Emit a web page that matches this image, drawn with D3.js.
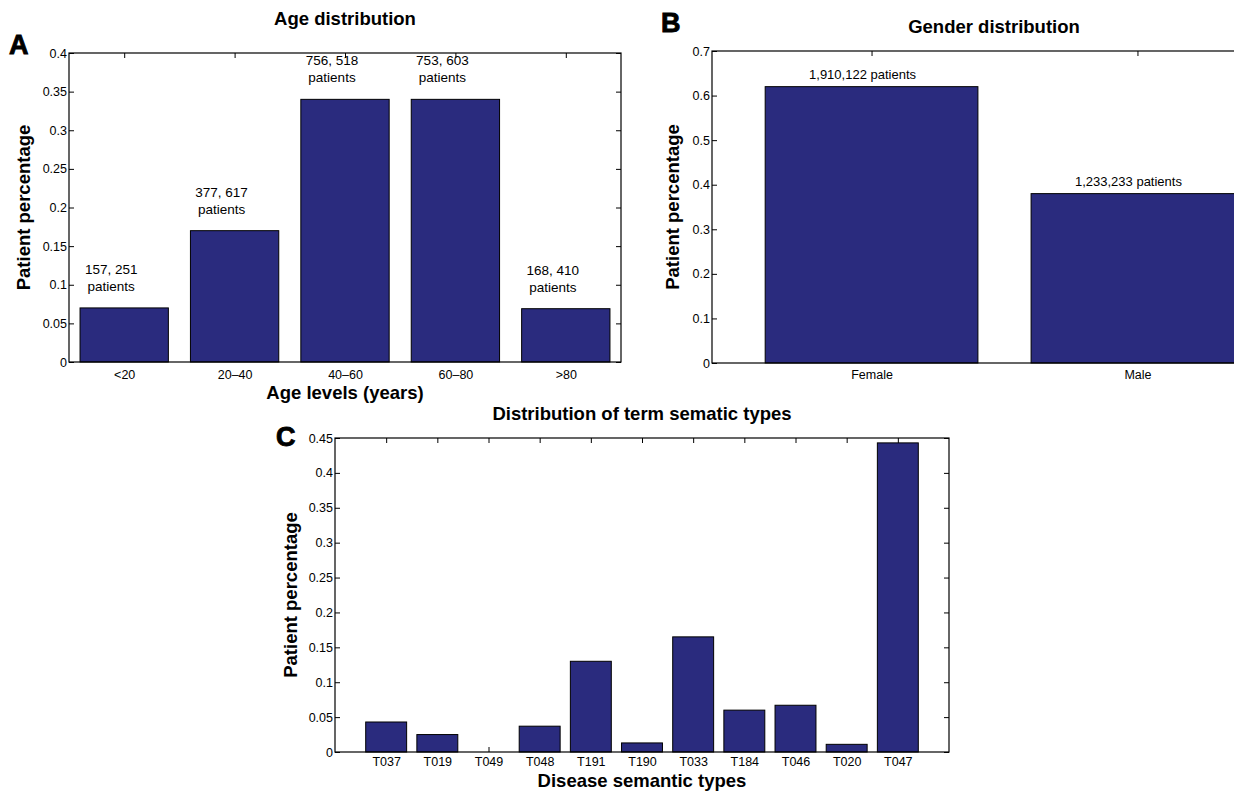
<!DOCTYPE html>
<meta charset="utf-8">
<script src="https://d3js.org/d3.v7.min.js"></script>
<style>
  body { margin: 0; background: #fff; }
  svg text { font-family: "Liberation Sans", Arial, sans-serif; fill: #000; }
</style>
<body>
<div id="chart"></div>
<script>

// A: age distribution
var ageLevels = ["<20", "20\u201340", "40\u201360", "60\u201380", ">80"];
var agePct = [0.07, 0.17, 0.34, 0.34, 0.069];
var ageNotes = [["157, 251", "patients"], ["377, 617", "patients"], ["756, 518", "patients"],
                ["753, 603", "patients"], ["168, 410", "patients"]];
var ageTicks = [0, 0.05, 0.1, 0.15, 0.2, 0.25, 0.3, 0.35, 0.4];

// B: gender distribution
var genders = ["Female", "Male"];
var genderPct = [0.62, 0.38];
var genderNotes = [["1,910,122 patients"], ["1,233,233 patients"]];
var genderTicks = [0, 0.1, 0.2, 0.3, 0.4, 0.5, 0.6, 0.7];

// C: semantic types
var semTypes = ["T037", "T019", "T049", "T048", "T191", "T190", "T033", "T184", "T046", "T020", "T047"];
var semPct = [0.043, 0.025, 0, 0.037, 0.13, 0.013, 0.165, 0.06, 0.067, 0.011, 0.443];
var semTicks = [0, 0.05, 0.1, 0.15, 0.2, 0.25, 0.3, 0.35, 0.4, 0.45];

var barColor = "#2a2b7e";

const svg = d3.select("#chart").append("svg")
  .attr("width", 1234)
  .attr("height", 791);

function drawPanel(p) {
  var x = d3.scaleLinear().domain(p.xlim).range([p.left, p.right]);
  var y = d3.scaleLinear().domain([0, p.yticks[p.yticks.length - 1]]).range([p.bottom, p.top]);
  var idx = d3.range(1, p.cats.length + 1);
  var g = svg.append("g");

  // inside ticks on all four sides
  g.append("g").attr("transform", `translate(0,${p.bottom})`)
    .call(d3.axisBottom(x).tickValues(idx).tickSizeInner(-5).tickSizeOuter(0).tickPadding(p.tickPad)
      .tickFormat(function(i) { return p.cats[i - 1]; }));
  g.append("g").attr("transform", `translate(0,${p.top})`)
    .call(d3.axisTop(x).tickValues(idx).tickSizeInner(-5).tickSizeOuter(0).tickFormat(""));
  g.append("g").attr("transform", `translate(${p.left},0)`)
    .call(d3.axisLeft(y).tickValues(p.yticks).tickSizeInner(-5).tickSizeOuter(0).tickPadding(2)
      .tickFormat(function(d) { return String(d); }));
  g.append("g").attr("transform", `translate(${p.right},0)`)
    .call(d3.axisRight(y).tickValues(p.yticks).tickSizeInner(-5).tickSizeOuter(0).tickFormat(""));
  g.selectAll(".domain").remove();
  g.selectAll(".tick line").attr("stroke", "#000");
  g.selectAll(".tick text").attr("font-size", 12.5);

  // bars
  var bw = x(1.4) - x(0.6);
  g.selectAll("rect.bar")
    .data(p.values)
    .join("rect")
      .attr("class", "bar")
      .attr("x", function(d, i) { return x(i + 1) - bw / 2; })
      .attr("width", bw)
      .attr("y", function(d) { return y(d); })
      .attr("height", function(d) { return p.bottom - y(d); })
      .style("fill", barColor)
      .style("stroke", "#000")
      .style("stroke-width", 1);

  // box
  g.append("rect")
    .attr("x", p.left).attr("y", p.top)
    .attr("width", p.right - p.left).attr("height", p.bottom - p.top)
    .style("fill", "none").style("stroke", "#000").style("stroke-width", 1.2);

  // bar notes
  if (p.notes) {
    p.notes.forEach(function(lines, i) {
      var t = g.append("text")
        .attr("text-anchor", "middle")
        .attr("font-size", p.noteSize)
        .attr("x", x(i + 1) + p.noteDx)
        .attr("y", y(p.values[i]) - p.noteGap - (lines.length - 1) * 17);
      lines.forEach(function(s, k) {
        t.append("tspan").attr("x", x(i + 1) + p.noteDx).attr("dy", k ? 17 : 0).text(s);
      });
    });
  }

  var mid = (p.left + p.right) / 2;
  g.append("text").attr("x", p.titleX || mid).attr("y", p.titleY)
    .attr("text-anchor", "middle").attr("font-size", 18.5).attr("font-weight", "bold").text(p.title);
  if (p.xlabel) {
    g.append("text").attr("x", mid).attr("y", p.xlabelY)
      .attr("text-anchor", "middle").attr("font-size", 18.5).attr("font-weight", "bold").text(p.xlabel);
  }
  g.append("text")
    .attr("transform", `translate(${p.ylabelX},${(p.top + p.bottom) / 2}) rotate(-90)`)
    .attr("text-anchor", "middle").attr("font-size", 18.5).attr("font-weight", "bold")
    .text("Patient percentage");
  g.append("text").attr("x", p.letterX).attr("y", p.letterY)
    .attr("font-size", 27).attr("font-weight", "bold")
    .style("stroke", "#000").style("stroke-width", 0.9)
    .text(p.letter);
}

drawPanel({
  cats: ageLevels, values: agePct, notes: ageNotes, yticks: ageTicks,
  xlim: [0.5, 5.5], left: 69, right: 621, top: 53, bottom: 362,
  tickPad: 8, noteDx: -13, noteGap: 17, noteSize: 13.5,
  title: "Age distribution", titleY: 25,
  xlabel: "Age levels (years)", xlabelY: 399,
  ylabelX: 30, letter: "A", letterX: 9, letterY: 54
});

drawPanel({
  cats: genders, values: genderPct, notes: genderNotes, yticks: genderTicks,
  xlim: [0.4, 2.6], left: 712, right: 1297, top: 51, bottom: 363,
  tickPad: 7, noteDx: -9, noteGap: 8, noteSize: 13,
  title: "Gender distribution", titleX: 994, titleY: 33,
  ylabelX: 679, letter: "B", letterX: 661, letterY: 32
});

drawPanel({
  cats: semTypes, values: semPct, yticks: semTicks,
  xlim: [0, 12], left: 335, right: 949, top: 438, bottom: 752,
  tickPad: 5,
  title: "Distribution of term sematic types", titleY: 420,
  xlabel: "Disease semantic types", xlabelY: 787,
  ylabelX: 297, letter: "C", letterX: 276, letterY: 446
});

</script>
</body>
